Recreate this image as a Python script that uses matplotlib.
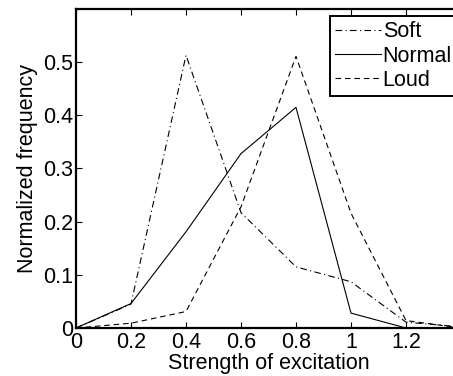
import matplotlib
matplotlib.use("Agg")
import matplotlib.pyplot as plt

x = [0, 0.2, 0.4, 0.6, 0.8, 1.0, 1.2, 1.4]
soft = [0, 0.045, 0.513, 0.217, 0.115, 0.087, 0.011, 0.002]
normal = [0, 0.046, 0.181, 0.328, 0.415, 0.028, 0.0, 0.0]
loud = [0, 0.009, 0.031, 0.228, 0.511, 0.216, 0.014, 0.0]
xticks = [0, 0.2, 0.4, 0.6, 0.8, 1.0, 1.2]
xticklabels = ["0", "0.2", "0.4", "0.6", "0.8", "1", "1.2"]
yticks = [0, 0.1, 0.2, 0.3, 0.4, 0.5]
yticklabels = ["0", "0.1", "0.2", "0.3", "0.4", "0.5"]

plt.rcParams['font.family'] = ['Liberation Sans', 'DejaVu Sans']
plt.rcParams['font.size'] = 15.5

W, H = 453, 376
fig = plt.figure(figsize=(W / 100, H / 100), dpi=100)
left, right, bottom, top = 76, 461, 328, 9
ax = fig.add_axes([left / W, 1 - bottom / H, (right - left) / W, (bottom - top) / H])

ax.plot(x, soft, color='black', lw=0.8, ls=(0, (6, 3, 1, 3)), label='Soft')
ax.plot(x, normal, color='black', lw=0.8, ls='-', label='Normal')
ax.plot(x, loud, color='black', lw=0.8, ls=(0, (5, 3.5)), label='Loud')

ax.set_xlim(0, 1.4)
ax.set_ylim(0, 0.6)
ax.set_xticks(xticks)
ax.set_xticklabels(xticklabels)
ax.set_yticks(yticks)
ax.set_yticklabels(yticklabels)
ax.tick_params(direction='in', top=True, right=True, length=4, width=0.8, pad=2)
ax.tick_params(axis='x', pad=3)
for s in ax.spines.values():
    s.set_linewidth(1.6)

ax.set_xlabel('Strength of excitation', labelpad=0)
ax.set_ylabel('Normalized frequency', labelpad=4)

leg = ax.legend(loc='upper left', bbox_to_anchor=(330 / W, 1 - 16 / H),
                bbox_transform=fig.transFigure, frameon=True, fancybox=False,
                edgecolor='black', framealpha=1, handlelength=2.1,
                handletextpad=0.1, borderpad=0.25, labelspacing=0.15,
                borderaxespad=0)
leg.get_frame().set_linewidth(1.4)

fig.savefig('out.png', dpi=100)
